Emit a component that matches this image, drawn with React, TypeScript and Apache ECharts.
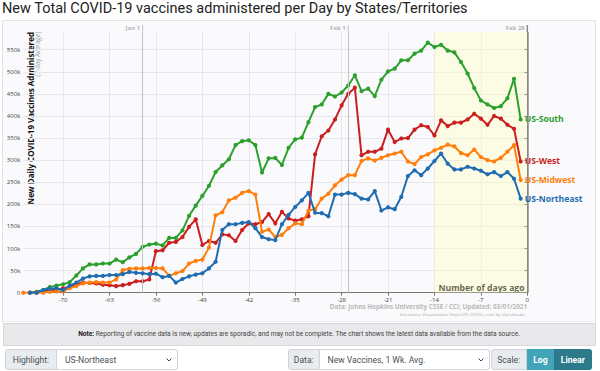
import React, { useEffect, useRef } from "react";
import * as echarts from "echarts";

// ---------- data (values in thousands of doses, 7-day average) ----------
const startDay = -76;
const days: number[] = Array.from({ length: 76 }, (_, i) => startDay + i); // -76 .. -1 days ago

const usSouth = [null, 0, 2, 6, 13, 16, 19, 24, 39, 55,
  64, 64, 66, 66, 75, 69, 80, 88, 104, 109,
  111, 107, 124, 124, 141, 174, 197, 219, 242, 273,
  288, 302, 334, 343, 345, 334, 272, 304, 305, 289,
  328, 347, 351, 386, 420, 426, 450, 444, 453, 469,
  492, 456, 462, 445, 482, 501, 507, 526, 526, 541,
  548, 566, 556, 561, 548, 544, 522, 496, 463, 435,
  426, 418, 422, 440, 484, 392];

const usWest = [null, 0, 0, 3, 5, 7, 10, 13, 19, 23,
  22, 21, 18, 17, 15, 17, 20, 26, 26, 30,
  94, 96, 113, 115, 126, 149, 166, 108, 117, 113,
  132, 130, 117, 142, 157, 155, 160, 178, 157, 183,
  168, 163, 166, 173, 313, 354, 367, 392, 424, 450,
  464, 311, 319, 319, 326, 369, 341, 349, 350, 369,
  379, 375, 356, 390, 377, 385, 385, 392, 405, 394,
  380, 400, 394, 380, 371, 297];

const usMidwest = [0, 0, 0, 0, 2, 3, 3, 10, 15, 21,
  23, 24, 23, 23, 30, 51, 54, 55, 55, 56,
  56, 55, 38, 44, 49, 66, 72, 75, 102, 175,
  182, 209, 215, 226, 230, 222, 138, 143, 126, 131,
  146, 157, 155, 186, 189, 213, 224, 243, 256, 266,
  266, 298, 304, 299, 305, 311, 315, 319, 297, 291,
  307, 313, 322, 328, 335, 331, 316, 311, 324, 307,
  300, 297, 305, 319, 334, 255];

const usNortheast = [null, 0, 0, 6, 9, 10, 6, 16, 23, 32,
  37, 38, 38, 40, 40, 42, 47, 45, 44, 42,
  43, 35, 38, 23, 31, 37, 41, 44, 55, 70,
  142, 155, 155, 158, 160, 146, 126, 121, 119, 155,
  176, 194, 209, 226, 181, 180, 173, 222, 222, 226,
  223, 213, 211, 230, 186, 193, 189, 217, 264, 277,
  266, 281, 298, 315, 292, 279, 279, 285, 281, 276,
  268, 273, 264, 273, 258, 213];

const seriesNames = ["US-South", "US-West", "US-Midwest", "US-Northeast"];
const seriesValues = [usSouth, usWest, usMidwest, usNortheast];
const seriesColors = ["#2ca02c", "#c91f1f", "#ff7f0e", "#1f6db0"];

const xTicks = [-70, -63, -56, -49, -42, -35, -28, -21, -14, -7, 0];
const xMin = -76;
const xMax = 0;
const yMaxK = 590;
const yStepK = 50;

const dateMarkLabels = ["Jan 1", "Feb 1", "Feb 28"];
const dateMarkDays = [-58, -27, 0];
const recentWindow = [-14, 0];

const titleText = "New Total COVID-19 vaccines administered per Day by States/Territories";
const yTitle = "New Daily COVID-19 Vaccines Administered";
const ySubtitle = "(7-day Average)";
const xTitle = "Number of days ago";
const sourceLine1 = "Data: Johns Hopkins University CSSE / CCI; Updated: 03/01/2021";
const sourceLine2 = "Interactive Visualization: https://91-DIVOC.com/ by @profwade_";

const FONT = '"Open Sans", sans-serif';

export default function App() {
  const ref = useRef<HTMLDivElement>(null);

  useEffect(() => {
    if (!ref.current) return;
    const chart = echarts.init(ref.current, undefined, { renderer: "svg" });

    const lineSeries = seriesNames.map((name, i) => ({
      type: "line",
      name,
      data: days.map((d, j) => [d, seriesValues[i][j]]),
      symbol: "circle",
      symbolSize: 4.2,
      showSymbol: true,
      showAllSymbol: true,
      connectNulls: false,
      lineStyle: { width: 2, color: seriesColors[i] },
      itemStyle: { color: seriesColors[i] },
      emphasis: { disabled: true },
      silent: true,
      z: 3 + i,
      endLabel: {
        show: true,
        formatter: "{a}",
        color: seriesColors[i],
        fontSize: 8.6,
        fontWeight: "bold",
        fontFamily: FONT,
        distance: 4,
      },
    }));

    const markerSeries = {
      type: "line",
      name: "markers",
      data: [],
      silent: true,
      z: 1,
      markArea: {
        silent: true,
        itemStyle: { color: "rgba(255,255,185,0.35)" },
        data: [[{ xAxis: recentWindow[0] }, { xAxis: recentWindow[1] }]],
      },
      markLine: {
        silent: true,
        symbol: "none",
        label: { show: false },
        data: dateMarkDays.map((d, i) => ({
          xAxis: d,
          lineStyle: {
            color: i === dateMarkDays.length - 1 ? "#8c8c8c" : "#c4c4c8",
            width: i === dateMarkDays.length - 1 ? 1.5 : 1,
            type: "solid",
          },
        })),
      },
    };

    const option: any = {
      animation: false,
      title: {
        text: titleText,
        left: 2,
        top: 1,
        padding: 0,
        textStyle: { fontFamily: "Roboto", fontSize: 14.5, fontWeight: 400, color: "#222" },
      },
      grid: { left: 23.3, right: 72.7, top: 32, bottom: 29.3 },
      xAxis: {
        type: "value",
        min: xMin,
        max: xMax,
        axisLine: { show: true, onZero: false, lineStyle: { color: "#777", width: 1 } },
        axisTick: { show: true, customValues: xTicks, length: 3, lineStyle: { color: "#777" } },
        axisLabel: {
          customValues: xTicks,
          fontSize: 6,
          color: "#444",
          margin: 4,
          fontFamily: FONT,
        },
        splitLine: { show: true, lineStyle: { color: "#e6e6ec", width: 1 } },
      },
      yAxis: {
        type: "value",
        min: 0,
        max: yMaxK,
        interval: yStepK,
        axisLine: { show: true, lineStyle: { color: "#666", width: 1 } },
        axisTick: { show: true, length: 3, lineStyle: { color: "#666" } },
        axisLabel: {
          formatter: (v: number) => (v === 0 ? "0" : v + "k"),
          showMaxLabel: false,
          fontSize: 6,
          color: "#444",
          margin: 3,
          fontFamily: FONT,
        },
        splitLine: { show: true, showMaxLine: false, lineStyle: { color: "#e6e6ec", width: 1 } },
      },
      graphic: [
        {
          type: "rect",
          id: "panel",
          z: -10,
          silent: true,
          shape: { x: 2.5, y: 20.5, width: 593, height: 301.5 },
          style: { fill: "#fafafc", stroke: "#e1e1e6", lineWidth: 1 },
        },
        {
          type: "text",
          id: "ytitle",
          x: 30,
          y: 32,
          rotation: Math.PI / 2,
          silent: true,
          style: {
            text: yTitle,
            fontSize: 8,
            fontWeight: "bold",
            fontFamily: FONT,
            fill: "#111",
            align: "right",
            verticalAlign: "middle",
          },
        },
        {
          type: "text",
          id: "ysub",
          x: 37.3,
          y: 32,
          rotation: Math.PI / 2,
          silent: true,
          style: {
            text: ySubtitle,
            fontSize: 6.2,
            fontFamily: FONT,
            fill: "#9a9a9a",
            align: "right",
            verticalAlign: "middle",
          },
        },
        {
          type: "text",
          id: "xtitle",
          x: 524.5,
          y: 287.5,
          silent: true,
          style: {
            text: xTitle,
            fontSize: 8.6,
            fontWeight: "bold",
            fontFamily: FONT,
            fill: "#111",
            align: "right",
            verticalAlign: "middle",
          },
        },
        {
          type: "text",
          id: "src1",
          x: 527,
          y: 306.7,
          silent: true,
          style: {
            text: sourceLine1,
            fontSize: 6.3,
            fontWeight: "bold",
            fontFamily: FONT,
            fill: "#b8b8b8",
            align: "right",
            verticalAlign: "middle",
          },
        },
        {
          type: "text",
          id: "src2",
          x: 526.7,
          y: 314.3,
          silent: true,
          style: {
            text: sourceLine2,
            fontSize: 4.3,
            fontFamily: FONT,
            fill: "#a8a8a8",
            align: "right",
            verticalAlign: "middle",
          },
        },
      ],
      series: [markerSeries, ...lineSeries],
    };

    chart.setOption(option);

    // date labels above the plot, positioned through the x axis scale
    const extra: any[] = [];
    dateMarkDays.forEach((d, i) => {
      const px = chart.convertToPixel({ xAxisIndex: 0 }, d) as number;
      const last = i === dateMarkDays.length - 1;
      extra.push({
        type: "line",
        id: "dl" + i,
        silent: true,
        shape: { x1: px, y1: 25, x2: px, y2: 32 },
        style: { stroke: last ? "#8c8c8c" : "#c4c4c8", lineWidth: last ? 1.5 : 1 },
      });
      extra.push({
        type: "text",
        id: "dt" + i,
        silent: true,
        x: px - 2.5,
        y: 28,
        style: {
          text: dateMarkLabels[i],
          fontSize: 6,
          fontWeight: "bold",
          fontFamily: FONT,
          fill: "#b4b4b4",
          align: "right",
          verticalAlign: "middle",
        },
      });
    });
    chart.setOption({ graphic: extra });

    return () => chart.dispose();
  }, []);

  const labelBox: React.CSSProperties = {
    position: "absolute",
    top: 349,
    height: 21,
    boxSizing: "border-box",
    background: "#e9ecef",
    border: "1px solid #ced4da",
    color: "#495057",
    fontSize: 8.6,
    fontFamily: "Roboto, sans-serif",
    display: "flex",
    alignItems: "center",
    justifyContent: "center",
  };
  const selectBox: React.CSSProperties = {
    position: "absolute",
    top: 349,
    height: 21,
    boxSizing: "border-box",
    background: "#fff",
    border: "1px solid #ced4da",
    borderLeft: "none",
    color: "#495057",
    fontSize: 8.6,
    fontFamily: "Roboto, sans-serif",
    display: "flex",
    alignItems: "center",
    paddingLeft: 8,
    borderRadius: "0 3px 3px 0",
  };
  const chevron = (
    <svg width="6" height="4" style={{ position: "absolute", right: 5, top: 8 }}>
      <polyline points="0.6,0.6 3,3 5.4,0.6" fill="none" stroke="#444" strokeWidth="1" />
    </svg>
  );
  const btn: React.CSSProperties = {
    position: "absolute",
    top: 349,
    height: 21,
    boxSizing: "border-box",
    color: "#fff",
    fontSize: 8.6,
    fontWeight: 700,
    fontFamily: "Roboto, sans-serif",
    display: "flex",
    alignItems: "center",
    justifyContent: "center",
  };

  return (
    <div style={{ position: "absolute", left: 0, top: 0, width: 600, height: 371, background: "#fff", overflow: "hidden" }}>
      <div ref={ref} style={{ position: "absolute", left: 0, top: 0, width: 600, height: 322 }} />
      <div
        style={{
          position: "absolute",
          left: 2.5,
          top: 322.5,
          width: 593,
          height: 23,
          boxSizing: "border-box",
          background: "#e9e9eb",
          border: "1px solid #d8d8dc",
          fontFamily: "Roboto, sans-serif",
          fontSize: 6.6,
          color: "#444",
          display: "flex",
          alignItems: "center",
          justifyContent: "center",
        }}
      >
        <span>
          <b style={{ color: "#222" }}>Note:</b> Reporting of vaccine data is new, updates are sporadic, and may not be complete. The chart shows the latest data available from the data source.
        </span>
      </div>

      <div style={{ ...labelBox, left: 5, width: 52, borderRadius: "3px 0 0 3px" }}>Highlight:</div>
      <div style={{ ...selectBox, left: 57, width: 121 }}>
        US-Northeast
        {chevron}
      </div>

      <div style={{ ...labelBox, left: 288, width: 31.5, borderRadius: "3px 0 0 3px" }}>Data:</div>
      <div style={{ ...selectBox, left: 319.5, width: 170 }}>
        New Vaccines, 1 Wk. Avg.
        {chevron}
      </div>

      <div style={{ ...labelBox, left: 490.7, width: 36, borderRadius: "3px 0 0 3px" }}>Scale:</div>
      <div style={{ ...btn, left: 526.7, width: 27.3, background: "#42a4b9" }}>Log</div>
      <div style={{ ...btn, left: 554, width: 37.7, background: "#2b7b8b", borderRadius: "0 3px 3px 0" }}>Linear</div>
    </div>
  );
}
